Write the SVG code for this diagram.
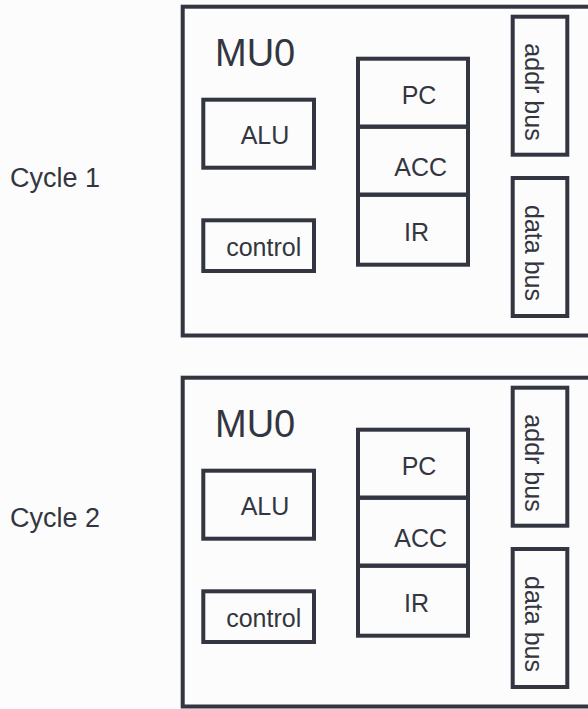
<svg xmlns="http://www.w3.org/2000/svg" width="588" height="709" viewBox="0 0 588 709">
<style>
.bg{fill:#fcfcfc}
.box{fill:none;stroke:#333640;stroke-width:4}
.t{font-family:"Liberation Sans",Arial,sans-serif;fill:#333640;font-size:25px}
.big{font-size:38px}
.cyc{font-size:27px}
</style>
<rect class="bg" x="0" y="0" width="588" height="709"/>
<g id="cycle1-label"><text class="t cyc" x="10" y="187">Cycle 1</text></g>
<g id="cycle2-label"><text class="t cyc" x="10" y="527">Cycle 2</text></g>
<g id="panel1">
  <g id="mu0-1"><rect class="box" x="182.7" y="6.7" width="420" height="328.8"/><text class="t big" x="215" y="66">MU0</text></g>
  <g id="alu-1"><rect class="box" x="203.3" y="99.7" width="110.7" height="68"/><text class="t" x="265" y="144" text-anchor="middle">ALU</text></g>
  <g id="control-1"><rect class="box" x="203.3" y="220.3" width="110.7" height="50.7"/><text class="t" x="263.7" y="256" text-anchor="middle">control</text></g>
  <g id="pc-1"><rect class="box" x="358" y="58.7" width="110" height="68"/><text class="t" x="419" y="103.5" text-anchor="middle">PC</text></g>
  <g id="acc-1"><rect class="box" x="358" y="126.7" width="110" height="68"/><text class="t" x="420.7" y="176" text-anchor="middle">ACC</text></g>
  <g id="ir-1"><rect class="box" x="358" y="194.7" width="110" height="70"/><text class="t" x="416.5" y="241" text-anchor="middle">IR</text></g>
  <g id="addr-1"><rect class="box" x="512.7" y="16.7" width="54.6" height="138"/><text class="t" transform="translate(525 92) rotate(90)" text-anchor="middle">addr bus</text></g>
  <g id="data-1"><rect class="box" x="512.7" y="178" width="54.6" height="138"/><text class="t" transform="translate(525 253) rotate(90)" text-anchor="middle">data bus</text></g>
</g>
<g id="panel2" transform="translate(0 371)">
  <g id="mu0-2"><rect class="box" x="182.7" y="6.7" width="420" height="328.8"/><text class="t big" x="215" y="66">MU0</text></g>
  <g id="alu-2"><rect class="box" x="203.3" y="99.7" width="110.7" height="68"/><text class="t" x="265" y="144" text-anchor="middle">ALU</text></g>
  <g id="control-2"><rect class="box" x="203.3" y="220.3" width="110.7" height="50.7"/><text class="t" x="263.7" y="256" text-anchor="middle">control</text></g>
  <g id="pc-2"><rect class="box" x="358" y="58.7" width="110" height="68"/><text class="t" x="419" y="103.5" text-anchor="middle">PC</text></g>
  <g id="acc-2"><rect class="box" x="358" y="126.7" width="110" height="68"/><text class="t" x="420.7" y="176" text-anchor="middle">ACC</text></g>
  <g id="ir-2"><rect class="box" x="358" y="194.7" width="110" height="70"/><text class="t" x="416.5" y="241" text-anchor="middle">IR</text></g>
  <g id="addr-2"><rect class="box" x="512.7" y="16.7" width="54.6" height="138"/><text class="t" transform="translate(525 92) rotate(90)" text-anchor="middle">addr bus</text></g>
  <g id="data-2"><rect class="box" x="512.7" y="178" width="54.6" height="138"/><text class="t" transform="translate(525 253) rotate(90)" text-anchor="middle">data bus</text></g>
</g>
<g id="connectors"/>
</svg>
